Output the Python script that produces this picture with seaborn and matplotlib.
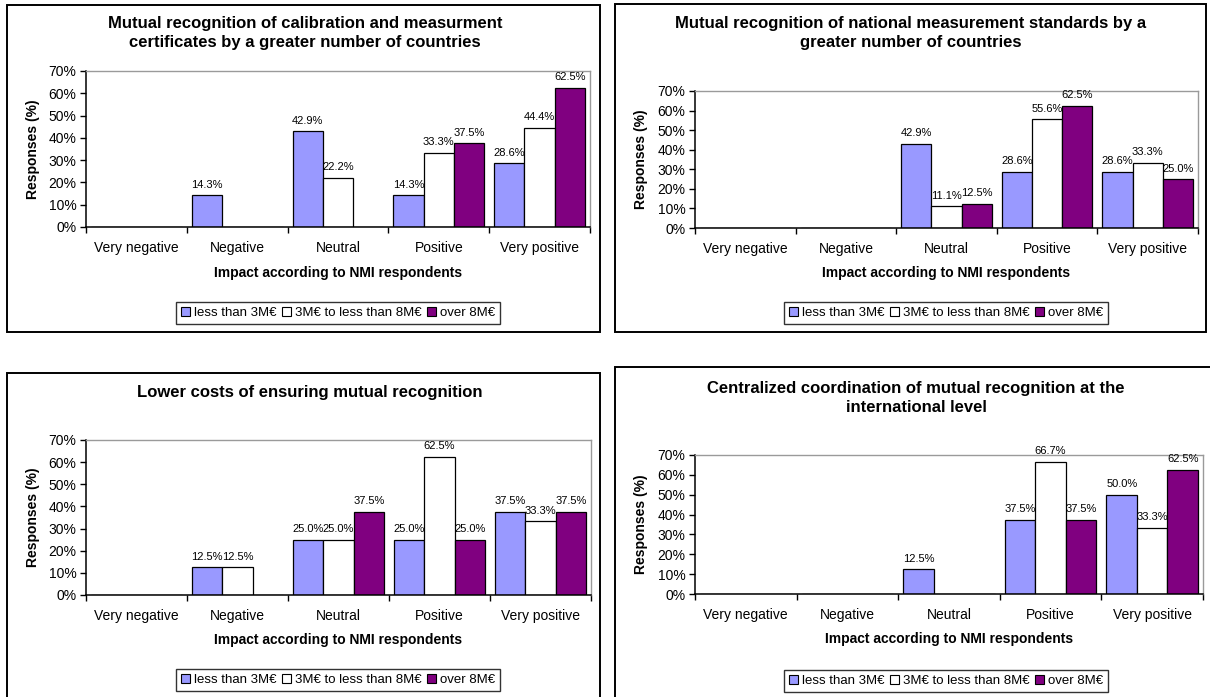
import numpy as np
import pandas as pd
import matplotlib
matplotlib.use("Agg")
import matplotlib.pyplot as plt
import seaborn as sns
from matplotlib.patches import Rectangle, Patch
from matplotlib.ticker import PercentFormatter

# Impact categories and budget groups
categories = ["Very negative", "Negative", "Neutral", "Positive", "Very positive"]
budget_groups = ["less than 3M\u20ac", "3M\u20ac to less than 8M\u20ac", "over 8M\u20ac"]
group_colors = ["#9999FF", "#FFFFFF", "#800080"]

# Responses (%) per impact category, one list per budget group
calib_small = [0, 14.3, 42.9, 14.3, 28.6]
calib_mid = [0, 0, 22.2, 33.3, 44.4]
calib_large = [0, 0, 0, 37.5, 62.5]

standards_small = [0, 0, 42.9, 28.6, 28.6]
standards_mid = [0, 0, 11.1, 55.6, 33.3]
standards_large = [0, 0, 12.5, 62.5, 25.0]

costs_small = [0, 12.5, 25.0, 25.0, 37.5]
costs_mid = [0, 12.5, 25.0, 62.5, 33.3]
costs_large = [0, 0, 37.5, 25.0, 37.5]

central_small = [0, 0, 12.5, 37.5, 50.0]
central_mid = [0, 0, 0, 66.7, 33.3]
central_large = [0, 0, 0, 37.5, 62.5]

titles = [
    "Mutual recognition of calibration and measurment\ncertificates by a greater number of countries",
    "Mutual recognition of national measurement standards by a\ngreater number of countries",
    "Lower costs of ensuring mutual recognition",
    "Centralized coordination of mutual recognition at the\ninternational level",
]
x_label = "Impact according to NMI respondents"
y_label = "Responses (%)"
y_ticks = [0, 10, 20, 30, 40, 50, 60, 70]

series = [
    (calib_small, calib_mid, calib_large),
    (standards_small, standards_mid, standards_large),
    (costs_small, costs_mid, costs_large),
    (central_small, central_mid, central_large),
]

sns.set_theme(style="white")
plt.rcParams["font.family"] = ["Liberation Sans", "DejaVu Sans"]
plt.rcParams["text.color"] = "black"
plt.rcParams["axes.labelcolor"] = "black"

W, H = 1210, 697
fig = plt.figure(figsize=(W / 100, H / 100), dpi=100)
fig.patch.set_facecolor("white")


def fx(x):
    return x / W


def fy(y):
    return 1 - y / H


# Layout in pixels (top-left origin)
layout = [
    dict(border=(7, 5, 600, 332), axes=(86, 71, 590, 227), title=(305, 33),
         xlabel_y=273, ylabel_x=33, legend=(338, 313)),
    dict(border=(615, 4, 1206, 332), axes=(695, 91, 1198, 228), title=(911, 33),
         xlabel_y=273, ylabel_x=641, legend=(946, 313)),
    dict(border=(7, 373, 600, 720), axes=(86, 440, 591, 595), title=(310, 392),
         xlabel_y=640, ylabel_x=33, legend=(338, 680)),
    dict(border=(615, 367, 1230, 720), axes=(695, 455, 1203, 594), title=(916, 398),
         xlabel_y=639, ylabel_x=641, legend=(946, 681)),
]

for spec, title, (small, mid, large) in zip(layout, titles, series):
    bx0, by0, bx1, by1 = spec["border"]
    fig.patches.append(Rectangle((fx(bx0), fy(by1)), fx(bx1 - bx0), (by1 - by0) / H,
                                 transform=fig.transFigure, fill=False,
                                 edgecolor="black", linewidth=1.4, zorder=0))

    ax0, ay0, ax1, ay1 = spec["axes"]
    ax = fig.add_axes([fx(ax0), fy(ay1), fx(ax1 - ax0), (ay1 - ay0) / H])
    ax.set_facecolor("white")

    df = pd.DataFrame({
        "Impact": categories * 3,
        "Group": np.repeat(budget_groups, len(categories)),
        "Share": list(small) + list(mid) + list(large),
    })
    sns.barplot(data=df, x="Impact", y="Share", hue="Group", order=categories,
                hue_order=budget_groups, palette=group_colors, width=0.9,
                saturation=1, edgecolor="black", linewidth=0.9, ax=ax,
                legend=False, errorbar=None)

    for cont, vals in zip(ax.containers, (small, mid, large)):
        labels = [f"{v:.1f}%" if v > 0 else "" for v in vals]
        ax.bar_label(cont, labels=labels, padding=4, fontsize=8, color="black")

    ax.set_xlim(-0.5, len(categories) - 0.5)
    ax.set_ylim(0, 70)
    ax.set_yticks(y_ticks)
    ax.yaxis.set_major_formatter(PercentFormatter(decimals=0))
    ax.set_xticks(range(len(categories)))
    ax.set_xticklabels(categories)
    ax.set_xticks(np.arange(-0.5, len(categories), 1.0), minor=True)
    ax.tick_params(axis="x", which="major", length=0, pad=10, labelsize=10, colors="black")
    ax.tick_params(axis="x", which="minor", length=4, width=1, direction="out", color="black", bottom=True)
    ax.tick_params(axis="y", which="major", length=4, width=1, direction="out", pad=3,
                   labelsize=10, colors="black", left=True)

    for side in ("left", "bottom"):
        ax.spines[side].set_color("black")
        ax.spines[side].set_linewidth(1.1)
    for side in ("top", "right"):
        ax.spines[side].set_color("#9a9a9a")
        ax.spines[side].set_linewidth(1.0)

    ax.set_xlabel(x_label, fontsize=10, fontweight="bold")
    ax.xaxis.label.set_va("center")
    ax.xaxis.set_label_coords(0.5, (ay1 - spec["xlabel_y"]) / (ay1 - ay0))
    ax.set_ylabel(y_label, fontsize=10, fontweight="bold")
    ax.yaxis.label.set_va("center")
    ax.yaxis.set_label_coords((spec["ylabel_x"] - ax0) / (ax1 - ax0), 0.5)

    tx, ty = spec["title"]
    fig.text(fx(tx), fy(ty), title, ha="center", va="center", fontsize=12,
             fontweight="bold", linespacing=1.3, color="black")

    handles = [Patch(facecolor=c, edgecolor="black", linewidth=0.8) for c in group_colors]
    lx, ly = spec["legend"]
    leg = fig.legend(handles, budget_groups, loc="center", bbox_to_anchor=(fx(lx), fy(ly)),
                     bbox_transform=fig.transFigure, ncol=3, fontsize=9.5, frameon=True,
                     fancybox=False, edgecolor="black", handlelength=0.7, handleheight=0.7,
                     handletextpad=0.3, columnspacing=0.4, borderpad=0.35)
    leg.get_frame().set_linewidth(1.0)

fig.savefig("out.png", dpi=100, facecolor="white")
